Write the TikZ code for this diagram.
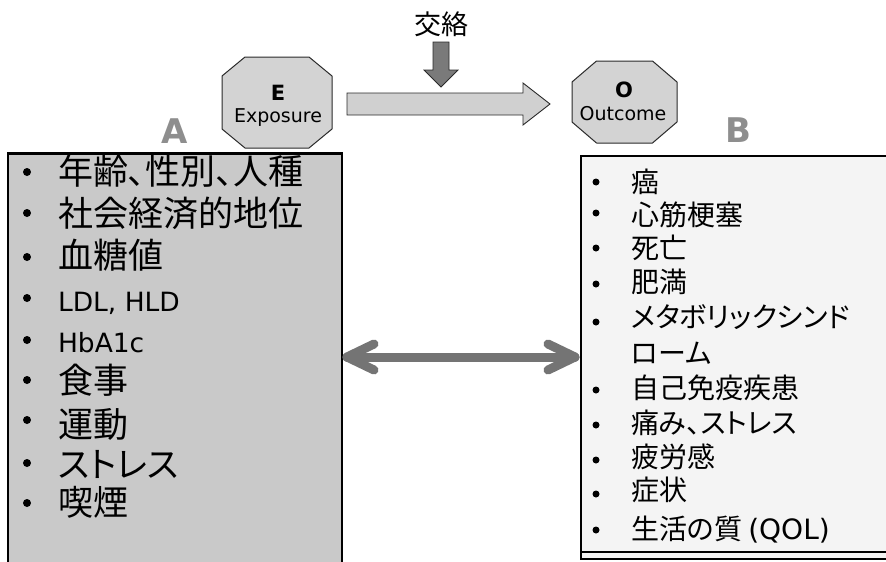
\documentclass[tikz,border=0pt]{standalone}
\usepackage{fontspec}
\setmainfont{DejaVu Sans}
\newfontfamily\jpfont[RawFeature=+palt]{Noto Sans CJK JP}
\newfontfamily\dvfont{DejaVu Sans}
\newfontfamily\dvbold{DejaVu Sans Bold}
\usetikzlibrary{calc}
\definecolor{boxAfill}{HTML}{C9C9C9}
\definecolor{boxBfill}{HTML}{F4F4F4}
\definecolor{octfill}{HTML}{D3D3D3}
\definecolor{arrfill}{HTML}{D0D0D0}
\definecolor{darkarr}{HTML}{7A7A7A}
\definecolor{dblcol}{HTML}{747474}
\definecolor{lettergray}{HTML}{8E8E8E}
\definecolor{edgecol}{HTML}{2A2A2A}
\begin{document}
\begin{tikzpicture}[x=1pt,y=-1pt,
  every node/.style={inner sep=0pt,outer sep=0pt},
  leftjp/.style={anchor=base west,font=\jpfont\fontsize{35}{38}\selectfont},
  leftlat/.style={anchor=base west,font=\dvfont\fontsize{26.5}{30}\selectfont},
  rightjp/.style={anchor=base west,font=\jpfont\fontsize{28}{32}\selectfont},
  bul/.style={circle,fill=black,minimum size=8pt},
  rbul/.style={circle,fill=black,minimum size=7pt},
  octa/.style={draw=edgecol,line width=1pt,fill=octfill,line join=round},
  harrow/.style={draw=edgecol,line width=0.9pt,fill=arrfill},
  darrow/.style={draw=edgecol,line width=0.8pt,fill=darkarr},
  dblarrow/.style={draw=dblcol,line width=9pt,line cap=round,line join=round},
  bigletter/.style={anchor=base,font=\dvbold\fontsize{34}{38}\selectfont,text=lettergray},
  otitle/.style={anchor=base,font=\dvbold\fontsize{21}{24}\selectfont},
  osub/.style={anchor=base,font=\dvfont\fontsize{19}{22}\selectfont},
  boxA/.style={anchor=north west,fill=boxAfill,draw=black,line width=1.5pt,minimum width=334pt,minimum height=430pt},
  boxB/.style={anchor=north west,fill=boxBfill,draw=black,line width=1.3pt,minimum width=330pt,minimum height=403pt}
]
\useasboundingbox (0,0) rectangle (886,562);
\clip (0,0) rectangle (886,562);

% boxes
\node[boxA] (Abox) at (8,153) {};
\draw[line width=3pt] (Abox.north west) -- (Abox.north east);
\node[boxB] (Bbox) at (581,156) {};
\draw[line width=2pt] (Bbox.north west) -- (Bbox.north east);
\draw[line width=1.2pt] (581,552) -- (886,552);

% big letters
\node[bigletter] (Alab) at (175,143) {A};
\node[bigletter] (Blab) at (738,142) {B};

% octagons
\begin{scope}[shift={(277,102.5)}]
\draw[octa] (-32,-45.5) -- (32,-45.5) -- (55,-26.5) -- (55,26.5) -- (32,45.5) -- (-32,45.5) -- (-55,26.5) -- (-55,-26.5) -- cycle;
\end{scope}
\begin{scope}[shift={(624.5,102)}]
\draw[octa] (-28,-41) -- (28,-41) -- (52.5,-20) -- (52.5,20) -- (28,41) -- (-28,41) -- (-52.5,20) -- (-52.5,-20) -- cycle;
\end{scope}
\node[otitle] (Eh) at (278,100) {E};
\node[osub] (E) at (278,122.7) {Exposure};
\node[otitle] (Oh) at (624,97) {O};
\node[osub] (O) at (623,120) {Outcome};

% confounding
\node[anchor=base,font=\jpfont\fontsize{27}{30}\selectfont] (conf) at (441,34) {交絡};
\draw[darrow] (433,42) -- (449,42) -- (449,70) -- (458,70) -- (441,87) -- (424,70) -- (433,70) -- cycle;

% exposure -> outcome block arrow
\draw[harrow] (347,93) -- (523,93) -- (523,83) -- (550,104) -- (523,125) -- (523,115) -- (347,115) -- cycle;

% double arrow
\coordinate (dl) at (347,357);
\coordinate (dr) at (575,357);
\draw[dblarrow] (dl) -- (dr);
\draw[dblarrow] ($(dl)+(27,-13)$) -- (dl) -- ($(dl)+(27,13)$);
\draw[dblarrow] ($(dr)+(-27,-13)$) -- (dr) -- ($(dr)+(-27,13)$);

% left list
\node[bul] (ba1) at (27,172) {};
\node[bul] (ba2) at (27,213) {};
\node[bul] (ba3) at (27,257) {};
\node[bul] (ba4) at (27,298) {};
\node[bul] (ba5) at (27,340) {};
\node[bul] (ba6) at (27,380) {};
\node[bul] (ba7) at (27,420) {};
\node[bul] (ba8) at (27,463) {};
\node[bul] (ba9) at (27,503) {};
\node[leftjp] (a1) at (58,184.5) {年齢、性別、人種};
\node[leftjp] (a2) at (58,226.5) {社会経済的地位};
\node[leftjp] (a3) at (58,268) {血糖値};
\node[leftlat] (a4) at (58,311) {LDL, HLD};
\node[leftlat] (a5) at (58,352) {HbA1c};
\node[leftjp] (a6) at (58,393) {食事};
\node[leftjp] (a7) at (58,437) {運動};
\node[leftjp] (a8) at (58,477) {ストレス};
\node[leftjp] (a9) at (58,515) {喫煙};

% right list
\node[rbul] (bb1) at (596,182) {};
\node[rbul] (bb2) at (596,213) {};
\node[rbul] (bb3) at (596,248) {};
\node[rbul] (bb4) at (596,284) {};
\node[rbul] (bb5) at (596,322) {};
\node[rbul] (bb6) at (596,390) {};
\node[rbul] (bb7) at (596,425) {};
\node[rbul] (bb8) at (596,460) {};
\node[rbul] (bb9) at (596,494) {};
\node[rbul] (bb10) at (596,530) {};
\node[rightjp] (b1) at (631,192.6) {癌};
\node[rightjp] (b2) at (631,225.6) {心筋梗塞};
\node[rightjp] (b3) at (631,258.6) {死亡};
\node[rightjp] (b4) at (631,292.6) {肥満};
\node[rightjp] (b5) at (631,327.6) {メタボリックシンド};
\node[rightjp] (b6) at (631,363.6) {ローム};
\node[rightjp] (b7) at (631,398.6) {自己免疫疾患};
\node[rightjp] (b8) at (631,433.6) {痛み、ストレス};
\node[rightjp] (b9) at (631,467.6) {疲労感};
\node[rightjp] (b10) at (631,500.6) {症状};
\node[rightjp] (b11) at (631,539.6) {生活の質 {\dvfont\fontsize{28}{32}\selectfont(QOL)}};
\end{tikzpicture}
\end{document}
